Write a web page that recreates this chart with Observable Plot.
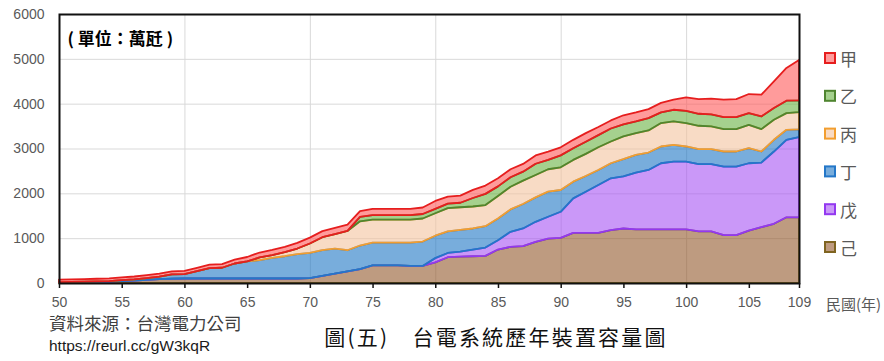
<!DOCTYPE html>
<html><head><meta charset="utf-8">
<script src="https://cdn.jsdelivr.net/npm/d3@7"></script>
<script src="https://cdn.jsdelivr.net/npm/@observablehq/plot@0.6"></script>
<style>
html,body{margin:0;padding:0;background:#fff;}
#wrap{position:relative;width:884px;height:361px;overflow:hidden;}
</style></head><body><div id="wrap"></div>
<script>
// ROC years 50..109
const years = [50,51,52,53,54,55,56,57,58,59,60,61,62,63,64,65,66,67,68,69,70,71,72,73,74,75,76,77,78,79,80,81,82,83,84,85,86,87,88,89,90,91,92,93,94,95,96,97,98,99,100,101,102,103,104,105,106,107,108,109];

// series values (萬瓩), bottom to top
const ji   = [20,22,25,28,32,45,55,70,85,95,100,100,100,100,100,100,100,100,100,100,110,160,210,260,310,395,395,395,380,380,460,575,590,597,604,746,806,821,918,992,1007,1119,1119,1119,1179,1216,1194,1194,1194,1194,1194,1150,1150,1067,1067,1170,1245,1320,1465,1465];
const wu   = [0,0,0,0,0,0,0,0,0,0,0,0,0,0,0,0,0,0,0,0,0,0,0,0,0,0,0,0,0,0,95,95,110,149,187,209,335,395,447,485,582,768,918,1067,1156,1160,1268,1328,1477,1514,1514,1500,1500,1530,1530,1501,1441,1612,1728,1790];
const ding = [0,3,5,7,10,18,27,40,59,97,100,165,230,240,335,380,410,460,497,542,561,571,558,471,526,505,505,505,520,545,500,480,485,470,477,485,500,547,545,560,485,373,350,335,336,385,396,388,374,374,337,336,336,336,336,336,247,262,224,170];
const bing = [0,0,0,0,0,0,0,0,0,0,0,0,0,0,0,0,60,64,90,127,210,290,321,430,540,514,514,514,514,514,500,520,505,490,470,500,507,520,500,500,507,485,493,508,485,510,485,492,522,522,522,521,506,499,499,522,499,447,373,388];
const yi   = [0,0,0,0,0,0,0,0,0,0,0,0,0,0,0,0,0,0,0,0,0,0,0,0,100,100,100,100,100,100,100,100,100,190,250,215,210,200,250,210,265,260,270,270,290,265,261,277,240,260,270,268,270,269,269,261,284,261,276,261];
const jia  = [55,56,58,60,60,62,63,65,66,68,70,75,80,80,85,100,110,115,120,125,130,135,140,140,125,140,140,140,140,145,175,155,160,180,185,180,180,173,185,185,180,188,192,180,180,205,201,200,210,225,304,328,349,388,402,425,485,597,731,900];

const seriesNames = ["己","戊","丁","丙","乙","甲"];
const seriesValues = [ji, wu, ding, bing, yi, jia];

const yTicks = [0,1000,2000,3000,4000,5000,6000];
const xTicks = [50,55,60,65,70,75,80,85,90,95,100,105,109];
const gridYTicks = [1000,2000,3000,4000,5000];
const gridXTicks = [60,70,80,90,100];

// styles
const fillBase  = ["#93582B","#A753F3","#1E76C5","#F3C39E","#69B243","#FF5858"];
const fillSwatch= ["#BE9B80","#CA98F8","#78ADDC","#F8DBC5","#A5D18E","#FF9B9B"];
const strokeCol = ["#7F6420","#9338F0","#2477C8","#F29E30","#4F8530","#E61E1E"];

// stacked rows
const layers = [];
let base = years.map(() => 0);
seriesNames.forEach((name, i) => {
  const vals = seriesValues[i];
  const r = years.map((yr, j) => ({year: yr, series: name, lo: base[j], hi: base[j] + vals[j]}));
  base = r.map(d => d.hi);
  layers.push(r);
});

const sansLatin = '"Liberation Sans", Arial, sans-serif';
const cjk = '"Noto Sans CJK TC", "Noto Sans CJK SC", sans-serif';

const chart = Plot.plot({
  width: 884, height: 361,
  marginLeft: 59, marginRight: 85, marginTop: 14, marginBottom: 78,
  x: {domain: [50, 109]},
  y: {domain: [0, 6000]},
  style: {fontFamily: sansLatin, background: "transparent", overflow: "visible"},
  marks: [
    Plot.gridY(gridYTicks, {stroke: "#d9d9d9", strokeOpacity: 1, strokeWidth: 1}),
    Plot.gridX(gridXTicks, {stroke: "#d9d9d9", strokeOpacity: 1, strokeWidth: 1}),
    ...layers.map((r, i) => Plot.areaY(r, {
      x: "year", y1: "lo", y2: "hi",
      fill: fillBase[i], fillOpacity: 0.6,
      stroke: strokeCol[i], strokeWidth: 1.8, strokeLinejoin: "round"
    })),
    Plot.axisY(yTicks, {tickSize: 0, tickPadding: 15, fill: "#595959", fontSize: 14, label: null, tickFormat: d => String(d)}),
    Plot.axisX(xTicks, {tickSize: 5, stroke: "#111", strokeWidth: 1.5, fill: "#595959", fontSize: 14, tickPadding: 9, label: null, tickFormat: d => String(d)}),
    Plot.frame({stroke: "#111", strokeWidth: 2}),
    Plot.text(["( 單位：萬瓩 )"], {frameAnchor: "top-left", dx: 8, dy: 18, textAnchor: "start",
      fontSize: 17, fontWeight: "bold", fill: "#000", fontFamily: cjk})
  ]
});
document.getElementById("wrap").appendChild(chart);

const svg = d3.select(chart);
const g = svg.append("g").attr("text-anchor", "start");
// legend (top series first)
const legendOrder = [5,4,3,2,1,0];
legendOrder.forEach((si, k) => {
  const cy = 58 + k * 37.8;
  g.append("rect").attr("x", 825).attr("y", cy - 5).attr("width", 10).attr("height", 10)
    .attr("fill", fillSwatch[si]).attr("stroke", strokeCol[si]).attr("stroke-width", 2);
  g.append("text").attr("x", 840).attr("y", cy).attr("dominant-baseline", "central").attr("text-anchor", "start")
    .attr("font-family", cjk).attr("font-size", 17).attr("fill", "#595959").text(seriesNames[si]);
});
// axis unit
g.append("text").attr("x", 826).attr("y", 303).attr("dominant-baseline", "central").attr("text-anchor", "start")
  .attr("font-family", cjk).attr("font-size", 15).attr("fill", "#595959").text("民國(年)");
// source
g.append("text").attr("x", 49).attr("y", 322).attr("dominant-baseline", "central").attr("text-anchor", "start")
  .attr("font-family", cjk).attr("font-size", 17.5).attr("fill", "#404040").text("資料來源：台灣電力公司");
g.append("text").attr("x", 49).attr("y", 345).attr("dominant-baseline", "central").attr("text-anchor", "start")
  .attr("font-family", sansLatin).attr("font-size", 15.5).attr("fill", "#1a1a1a").text("https://reurl.cc/gW3kqR");
// caption
g.append("text").attr("x", 496).attr("y", 336).attr("dominant-baseline", "central").attr("text-anchor", "middle")
  .attr("font-family", cjk).attr("font-size", 21).attr("letter-spacing", "2.2px").attr("fill", "#111").text("圖(五)　台電系統歷年裝置容量圖");
</script>
</body></html>
